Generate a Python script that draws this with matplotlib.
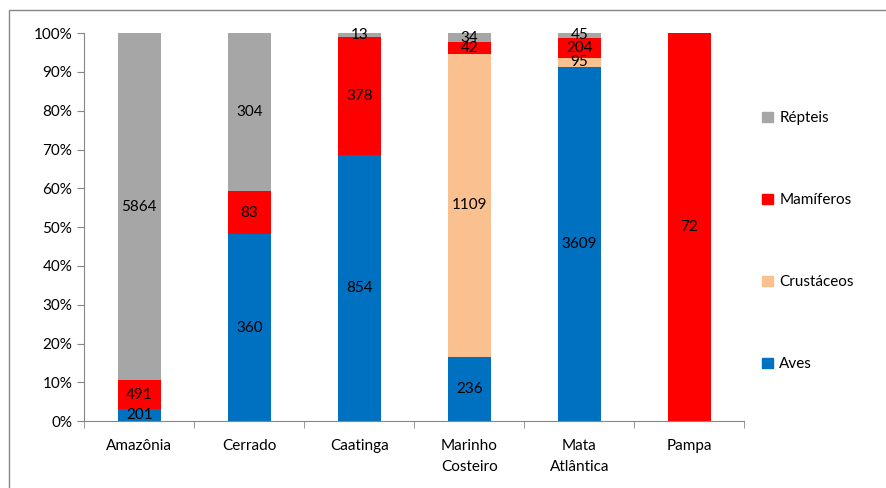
import matplotlib.pyplot as plt
import numpy as np
from matplotlib.patches import Rectangle, Patch

plt.rcParams['font.family'] = ['Lato', 'DejaVu Sans']

biomas = ["Amazônia", "Cerrado", "Caatinga", "Marinho\nCosteiro", "Mata\nAtlântica", "Pampa"]
series = ["Aves", "Crustáceos", "Mamíferos", "Répteis"]
aves = [201, 360, 854, 236, 3609, 0]
crustaceos = [0, 0, 0, 1109, 95, 0]
mamiferos = [491, 83, 378, 42, 204, 72]
repteis = [5864, 304, 13, 34, 45, 0]
cores = ["#0070C0", "#FAC090", "#FF0000", "#A6A6A6"]

dados = np.array([aves, crustaceos, mamiferos, repteis], dtype=float)
totais = dados.sum(axis=0)
pct = dados / totais * 100

fig = plt.figure(figsize=(8.86, 4.88), dpi=100)
ax = fig.add_axes([0.095, 0.137, 0.745, 0.795])

x = np.arange(len(biomas))
base = np.zeros(len(biomas))
for i in range(len(series)):
    ax.bar(x, pct[i], 0.39, bottom=base, color=cores[i], label=series[i])
    for j in range(len(biomas)):
        if dados[i, j] > 0:
            ax.text(x[j], base[j] + pct[i, j] / 2, "%d" % dados[i, j],
                    ha="center", va="center", fontsize=11, color="black")
    base += pct[i]

ax.set_xlim(-0.5, len(biomas) - 0.5)
ax.set_ylim(0, 100)
ax.set_yticks(np.arange(0, 101, 10))
ax.set_yticklabels(["%d%%" % v for v in range(0, 101, 10)], fontsize=11)
ax.set_xticks(x)
ax.set_xticklabels(biomas, fontsize=11, linespacing=1.6)
ax.set_xticks(np.arange(-0.5, len(biomas), 1), minor=True)
ax.tick_params(axis="x", which="major", length=0, pad=13)
ax.tick_params(axis="x", which="minor", length=5, color="#868686")
ax.tick_params(axis="y", length=5, color="#868686")
for s in ["top", "right"]:
    ax.spines[s].set_visible(False)
for s in ["left", "bottom"]:
    ax.spines[s].set_color("#868686")

handles = [Patch(color=cores[i]) for i in range(3, -1, -1)]
labels = [series[i] for i in range(3, -1, -1)]
fig.legend(handles, labels, loc="upper left", bbox_to_anchor=(0.845, 0.80),
           frameon=False, fontsize=11, labelspacing=4.45,
           handlelength=0.7, handleheight=0.7, handletextpad=0.4)

fig.patches.append(Rectangle((0.01, -0.01), 1.0, 0.99, transform=fig.transFigure,
                             fill=False, edgecolor="#868686", linewidth=1))

fig.savefig("out.png", dpi=100)
